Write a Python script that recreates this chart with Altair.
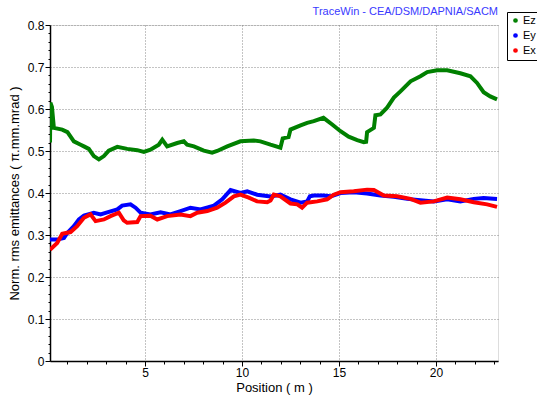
import altair as alt
import pandas as pd

# ---- data ----
ez_pos = [0.10, 0.12, 0.20, 0.30, 0.73, 1.00, 1.33, 1.68, 1.85, 2.10, 2.36, 2.62, 2.88, 3.13, 3.57,
          4.08, 4.60, 4.94, 5.28, 5.71, 5.89, 6.14, 6.66, 7.00, 7.17, 7.52, 8.03, 8.46, 8.72, 9.24,
          9.92, 10.60, 10.95, 11.47, 11.98, 12.10, 12.40, 12.50, 13.02, 13.36, 13.70, 14.20, 14.65,
          15.08, 15.50, 15.94, 16.28, 16.40, 16.45, 16.80, 16.88, 17.14, 17.48, 17.83, 18.17, 18.69,
          19.20, 19.55, 20.06, 20.58, 21.26, 21.78, 22.12, 22.46, 22.80, 23.15]
ez_val = [0.520, 0.615, 0.605, 0.555, 0.551, 0.545, 0.523, 0.515, 0.511, 0.505, 0.488, 0.480, 0.488,
          0.501, 0.510, 0.505, 0.502, 0.498, 0.503, 0.515, 0.527, 0.511, 0.519, 0.523, 0.515, 0.511,
          0.501, 0.496, 0.500, 0.511, 0.523, 0.525, 0.523, 0.515, 0.508, 0.530, 0.533, 0.551, 0.561,
          0.567, 0.571, 0.579, 0.563, 0.547, 0.534, 0.526, 0.521, 0.522, 0.545, 0.555, 0.585, 0.587,
          0.603, 0.627, 0.642, 0.666, 0.678, 0.688, 0.692, 0.692, 0.685, 0.678, 0.662, 0.640, 0.630,
          0.623]

ey_pos = [0.10, 0.47, 0.82, 0.99, 1.33, 1.59, 1.85, 2.36, 2.71, 3.05, 3.57, 3.82, 4.25, 4.51, 4.77,
          5.28, 5.80, 6.31, 6.83, 7.34, 7.86, 8.55, 8.98, 9.41, 9.92, 10.27, 10.78, 11.47, 11.98,
          12.50, 13.02, 13.36, 13.50, 13.70, 14.20, 14.56, 15.08, 15.76, 16.45, 17.14, 17.83, 18.52,
          19.20, 19.89, 20.58, 21.26, 21.95, 22.46, 23.15]
ey_val = [0.289, 0.289, 0.293, 0.305, 0.321, 0.337, 0.346, 0.353, 0.349, 0.354, 0.361, 0.370, 0.373,
          0.365, 0.353, 0.349, 0.354, 0.349, 0.357, 0.365, 0.361, 0.370, 0.385, 0.407, 0.400, 0.404,
          0.396, 0.392, 0.396, 0.385, 0.377, 0.380, 0.392, 0.394, 0.394, 0.392, 0.400, 0.402, 0.399,
          0.394, 0.391, 0.386, 0.383, 0.380, 0.385, 0.380, 0.386, 0.388, 0.386]

ex_pos = [0.10, 0.47, 0.73, 1.16, 1.50, 1.85, 2.19, 2.45, 2.88, 3.22, 3.65, 3.90, 4.08, 4.60, 4.77,
          5.28, 5.63, 6.14, 6.83, 7.34, 7.69, 8.21, 8.72, 9.15, 9.58, 9.92, 10.35, 10.78, 11.30,
          11.47, 11.64, 11.98, 12.50, 12.85, 13.10, 13.36, 13.88, 14.39, 14.73, 15.08, 15.76, 16.45,
          16.80, 17.31, 18.00, 18.69, 19.20, 19.89, 20.58, 21.26, 21.95, 22.64, 23.15]
ex_val = [0.265, 0.281, 0.303, 0.307, 0.321, 0.341, 0.349, 0.333, 0.337, 0.345, 0.353, 0.335, 0.329,
          0.331, 0.345, 0.346, 0.337, 0.345, 0.349, 0.345, 0.353, 0.357, 0.365, 0.377, 0.392, 0.396,
          0.389, 0.380, 0.378, 0.382, 0.396, 0.392, 0.375, 0.373, 0.365, 0.377, 0.380, 0.385, 0.396,
          0.402, 0.404, 0.408, 0.407, 0.394, 0.392, 0.386, 0.377, 0.380, 0.389, 0.385, 0.378, 0.373,
          0.367]

series = ["Ez", "Ey", "Ex"]
colors = ["#008000", "#0000ff", "#ff0000"]
x_ticks = list(range(1, 24))
y_ticks = [round(i * 0.02, 2) for i in range(41)]
header = ["TraceWin - CEA/DSM/DAPNIA/SACM"]

rows = []
for name, xs, ys in [("Ez", ez_pos, ez_val), ("Ey", ey_pos, ey_val), ("Ex", ex_pos, ex_val)]:
    for i, (a, b) in enumerate(zip(xs, ys)):
        rows.append({"s": name, "x": a, "y": b, "i": i})
df = pd.DataFrame(rows)

FONT = "Liberation Sans"
MAJ_Y = "abs(datum.value*10 - round(datum.value*10)) < 0.001"

x_axis = alt.Axis(
    values=x_ticks,
    title="Position ( m )",
    labelExpr="datum.value % 5 === 0 ? datum.label : ''",
    labelOverlap=False, labelFlush=False,
    grid=True,
    gridOpacity={"condition": {"test": "datum.value % 5 === 0", "value": 1}, "value": 0},
    gridDash=[1, 2], gridColor="#888888", gridWidth=1,
    tickSize={"condition": {"test": "datum.value % 5 === 0", "value": 5}, "value": 3},
    tickColor="#000000", domainColor="#000000", domainWidth=1.5,
    labelFont=FONT, labelFontSize=12, labelColor="#000000", labelPadding=1,
    titleFont=FONT, titleFontSize=13, titleFontWeight="normal", titleColor="#000000",
    titlePadding=3,
)

y_axis = alt.Axis(
    values=y_ticks,
    title="Norm. rms emittances ( π.mm.mrad )",
    labelExpr=MAJ_Y + " ? format(datum.value, '.1~f') : ''",
    labelOverlap=False, labelFlush=False,
    grid=True,
    gridOpacity={"condition": {"test": MAJ_Y, "value": 1}, "value": 0},
    gridDash=[1, 2], gridColor="#888888", gridWidth=1,
    tickSize={"condition": {"test": MAJ_Y, "value": 5}, "value": 2},
    tickColor="#000000", domainColor="#000000", domainWidth=1.5,
    labelFont=FONT, labelFontSize=12, labelColor="#000000", labelPadding=1,
    titleFont=FONT, titleFontSize=13, titleFontWeight="normal", titleColor="#000000",
    titlePadding=6,
)

lines = alt.Chart(df).mark_line(strokeWidth=4, clip=True).encode(
    x=alt.X("x:Q", scale=alt.Scale(domain=[0.1, 23.2], nice=False, zero=False), axis=x_axis),
    y=alt.Y("y:Q", scale=alt.Scale(domain=[0, 0.8], nice=False), axis=y_axis),
    color=alt.Color("s:N", scale=alt.Scale(domain=series, range=colors),
                    legend=alt.Legend(title=None, orient="none", legendX=457, legendY=-13,
                                      symbolType="circle", symbolSize=5, symbolStrokeWidth=2.5,
                                      labelFont=FONT, labelFontSize=11, labelColor="#000000",
                                      strokeColor="#000000", padding=3, rowPadding=2,
                                      labelOffset=2, fillColor="#ffffff", labelLimit=30)),
    order=alt.Order("i:Q"),
)

title_text = alt.Chart(pd.DataFrame({"t": header})).mark_text(
    align="right", baseline="bottom", font=FONT, fontSize=11, color="#3a3aff"
).encode(x=alt.value(448), y=alt.value(-8), text="t:N")

chart = alt.layer(lines, title_text).properties(
    width=448, height=336,
    autosize=alt.AutoSizeParams(type="none"),
    padding={"left": 50, "top": 25, "right": 39, "bottom": 37},
).configure_view(stroke="#000000", strokeWidth=1.5).configure(background="#ffffff")

chart.save("out.html", embed_options={"renderer": "svg", "actions": False})
